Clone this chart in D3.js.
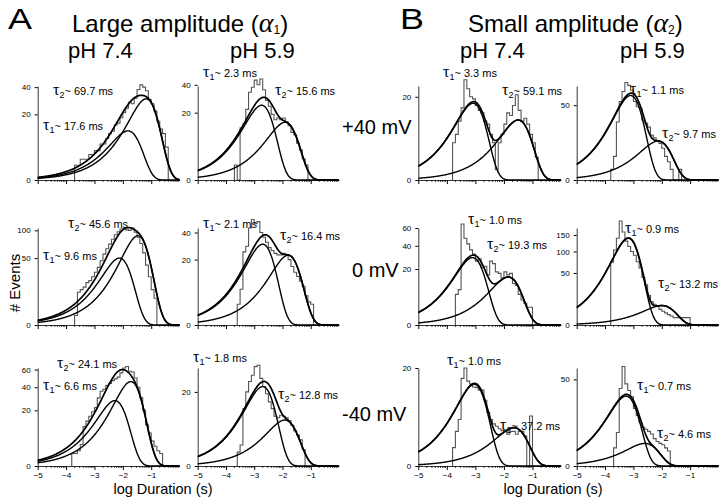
<!DOCTYPE html>
<html>
<head>
<meta charset="utf-8">
<script src="https://cdn.jsdelivr.net/npm/d3@7"></script>
<style>
body { margin: 0; background: #fff; }
text { font-family: "Liberation Sans", Arial, sans-serif; fill: #000; }
</style>
</head>
<body>
<svg id="fig" width="720" height="498"></svg>
<script>
// panels: row = voltage, column = (large 7.4, large 5.9, small 7.4, small 5.9)
const voltages = ["+40 mV", "0 mV", "-40 mV"];
const tau1Text = ["17.6", "2.3", "3.3", "1.1", "9.6", "2.1", "1.0", "0.9", "6.6", "1.8", "1.0", "0.7"];
const tau2Text = ["69.7", "15.6", "59.1", "9.7", "45.6", "16.4", "19.3", "13.2", "24.1", "12.8", "37.2", "4.6"];

// fitted components: peak position (log s) and peak height (# events)
const peak1X = [-1.82, -2.74, -3.08, -3.1, -2.12, -2.70, -3.1, -3.18, -2.28, -2.70, -3.04, -3.26];
const peak1N = [11.2, 24.7, 17, 64, 50, 30.5, 29, 139, 27.6, 23, 13.9, 32.6];
const peak2X = [-1.18, -1.91, -1.5, -2.13, -1.47, -1.80, -1.85, -2.0, -1.72, -1.92, -1.65, -2.6];
const peak2N = [30.6, 14.7, 10.4, 13.6, 89, 22.8, 14.7, 7, 46, 7.7, 3.06, 3.4];

// histograms, bins 0.1 log unit wide
const binStart = [-3.7, -3.7, -3.8, -3.8, -3.7, -3.6, -3.7, -3.8, -3.8, -3.6, -3.8, -3.7];
const histCounts = [
  [1, 1, 2, 2, 2, 3, 3, 4, 4, 6, 6, 8, 10, 11, 14, 15, 18, 21, 24, 28, 27, 31, 38, 42, 40, 37, 30, 27, 22, 16, 12, 10, 5],
  [1, 0, 12, 14, 22, 34, 38, 44, 40, 45, 36, 28, 24, 19, 16, 17, 16, 17, 15, 13, 10, 9, 6, 4, 2, 1],
  [4, 6, 10, 15, 29, 24, 20, 19, 16, 14, 13, 10, 9, 6, 4, 0.3, 4, 6, 9, 13, 12, 16, 21, 14, 10, 11, 9, 6, 4, 1.5],
  [1, 5, 30, 55, 70, 85, 80, 72, 55, 48, 46, 32, 29, 25, 18, 16, 14, 12, 9, 5, 3, 1, 0, 0, 1],
  [1, 12, 14, 16, 20, 22, 26, 31, 37, 46, 56, 65, 73, 82, 91, 97, 103, 104, 101, 100, 105, 96, 86, 74, 58, 40, 26, 14, 8],
  [2, 6, 25, 29, 44, 52, 48, 50, 40, 36, 32, 28, 26, 24, 23, 23, 24, 23, 20, 16, 13, 11, 9, 7, 4, 2.5, 2],
  [6, 8, 65, 48, 42, 36, 32, 26, 28, 21, 22, 16, 26, 24, 18, 17, 14, 18, 16, 17, 11, 10, 6, 4, 3, 2, 2],
  [73, 104, 139, 200, 160, 130, 114, 100, 90, 74, 60, 42, 30, 16, 10, 8, 6.5, 4.5, 3.5, 2.7, 2, 1.5, 1, 1, 1, 1, 1, 1],
  [1, 1, 1.5, 3, 10, 13, 16, 19, 22, 30, 36, 38, 42, 44, 47, 49, 51, 56, 62, 64, 58, 57, 50, 40, 30, 20, 11, 7, 4, 2.5, 1.5, 1],
  [0.7, 1.6, 12, 20, 26, 30, 36, 37, 28, 23, 19, 15, 12, 9, 8.5, 9.4, 9, 8.5, 7.5, 6, 4.5, 3.5, 2.5, 1],
  [0.7, 2.5, 4.5, 16, 20, 15, 14, 13, 12.8, 12, 12, 9, 6, 4.5, 3.7, 3.3, 2.9, 2.6, 2.5, 2.1, 2.5, 2.5, 2.1, 2.5, 2.5, 1.9, 0, 5.2],
  [2.2, 7.5, 40, 66, 45, 38, 32, 22, 17, 12.5, 10, 9, 8, 6.8, 5, 4, 3.4, 3, 2.2, 1.5]
];

const yMax = [41, 39, 25.5, 79, 105, 44, 60, 174, 62, 35, 20, 64];
const yTicks = [[0, 20, 40], [0, 20, 40], [0, 20], [0, 50], [0, 50, 100], [0, 20, 40], [0, 20, 40, 60],
                [0, 50, 100, 150], [0, 20, 40, 60], [0, 20], [0, 20], [0, 50]];
const xTicks = [-5, -4, -3, -2, -1];

// layout
const colX = [[37.7, 179.6], [197.7, 339], [418.3, 561], [576.7, 718.5]];
const rowBase = [180, 325, 466];
const rowTop = [86, 228, 368];
const tau1Pos = [[43, 130], [203, 77], [443, 77], [630, 94], [43, 260], [203, 228], [468, 224], [625, 233],
                 [43, 390], [193, 362], [447, 365], [637, 390]];
const tau2Pos = [[53, 95], [275, 95], [502, 95], [662, 138], [68, 228], [280, 240], [487, 249], [658, 288],
                 [57, 368], [278, 399], [500, 430], [657, 438]];

const svg = d3.select("#fig");

function comp(x, xp, a) {
  const u = Math.pow(10, x - xp);
  return a * Math.E * u * Math.exp(-u);
}

function tauLabel(pos, sub, val) {
  const t = svg.append("text").attr("x", pos[0]).attr("y", pos[1]);
  t.append("tspan").attr("font-family", "Liberation Serif, serif").attr("font-size", 16).text("τ");
  t.append("tspan").attr("font-size", 9).attr("dy", 3).text(sub);
  t.append("tspan").attr("font-size", 11).attr("dy", -3).text("~ " + val + " ms");
}

const xs = d3.range(-5, 0.001, 0.02);

for (let i = 0; i < 12; i++) {
  const row = Math.floor(i / 4), col = i % 4;
  const x = d3.scaleLinear().domain([-5, 0]).range(colX[col]);
  const y = d3.scaleSqrt().domain([0, yMax[i]]).range([rowBase[row], rowTop[row]]);
  const g = svg.append("g");

  // histogram outline
  const pts = [];
  const c = histCounts[i];
  pts.push([binStart[i], 0]);
  c.forEach((v, k) => {
    pts.push([binStart[i] + k * 0.1, v]);
    pts.push([binStart[i] + (k + 1) * 0.1, v]);
  });
  pts.push([binStart[i] + c.length * 0.1, 0]);
  g.append("path")
    .attr("d", d3.line().x(d => x(d[0])).y(d => y(d[1]))(pts))
    .attr("fill", "none").attr("stroke", "#555").attr("stroke-width", 1.1);

  // fitted curves
  const line = d3.line().x(d => x(d[0])).y(d => y(d[1])).curve(d3.curveBasis);
  const c1 = xs.map(v => [v, comp(v, peak1X[i], peak1N[i])]);
  const c2 = xs.map(v => [v, comp(v, peak2X[i], peak2N[i])]);
  const cs = xs.map(v => [v, comp(v, peak1X[i], peak1N[i]) + comp(v, peak2X[i], peak2N[i])]);
  [c1, c2].forEach(d => g.append("path").attr("d", line(d))
    .attr("fill", "none").attr("stroke", "#000").attr("stroke-width", 1.4));
  g.append("path").attr("d", line(cs))
    .attr("fill", "none").attr("stroke", "#000").attr("stroke-width", 1.7);

  // axes
  const ya = g.append("g").attr("transform", `translate(${colX[col][0]},0)`)
    .call(d3.axisLeft(y).tickValues(yTicks[i]).tickSize(3).tickSizeOuter(0).tickFormat(d3.format("d")));
  ya.selectAll("text").attr("font-size", 8).attr("dx", -1);
  ya.select(".domain").attr("stroke-width", 0.8);

  const xa = g.append("g").attr("transform", `translate(0,${rowBase[row]})`)
    .call(d3.axisBottom(x).tickValues(xTicks).tickSize(4).tickSizeOuter(0).tickPadding(2)
      .tickFormat(row === 2 ? d3.format("d") : ""));
  xa.selectAll("text").attr("font-size", 8);
  xa.select(".domain").attr("stroke-width", 0.8);
  const minor = [];
  for (let d = -5; d < 0; d++) for (let k = 2; k < 10; k++) minor.push(d + Math.log10(k));
  g.append("g").selectAll("line").data(minor).join("line")
    .attr("x1", d => x(d)).attr("x2", d => x(d))
    .attr("y1", rowBase[row]).attr("y2", rowBase[row] + 2)
    .attr("stroke", "#000").attr("stroke-width", 0.7);

  tauLabel(tau1Pos[i], "1", tau1Text[i]);
  tauLabel(tau2Pos[i], "2", tau2Text[i]);
}

// headings
function title(x0, letter, word, sub, tx) {
  svg.append("text").attr("x", x0).attr("y", 29).attr("font-size", 29)
    .attr("textLength", 24).attr("lengthAdjust", "spacingAndGlyphs").text(letter);
  const t = svg.append("text").attr("x", tx).attr("y", 32).attr("font-size", 24);
  t.append("tspan").text(word + " (");
  t.append("tspan").attr("font-family", "Liberation Serif, serif").attr("font-style", "italic").attr("font-size", 28).text("α");
  t.append("tspan").attr("font-size", 12).attr("dy", 2).text(sub);
  t.append("tspan").attr("dy", -2).text(")");
}
title(8, "A", "Large amplitude", "1", 72);
title(400, "B", "Small amplitude", "2", 468);

const phX = [68, 230, 460, 620];
const phText = ["pH 7.4", "pH 5.9", "pH 7.4", "pH 5.9"];
phX.forEach((v, k) => svg.append("text").attr("x", v).attr("y", 58).attr("font-size", 22).text(phText[k]));

const vY = [134, 277, 421];
voltages.forEach((v, k) => svg.append("text").attr("x", k === 1 ? 352 : 342).attr("y", vY[k])
  .attr("font-size", 20).text(v));

svg.append("text").attr("transform", "translate(20,283) rotate(-90)").attr("text-anchor", "middle")
  .attr("font-size", 15).text("# Events");

[163, 553].forEach(v => svg.append("text").attr("x", v).attr("y", 494).attr("text-anchor", "middle")
  .attr("font-size", 14.5).text("log Duration (s)"));
</script>
</body>
</html>
